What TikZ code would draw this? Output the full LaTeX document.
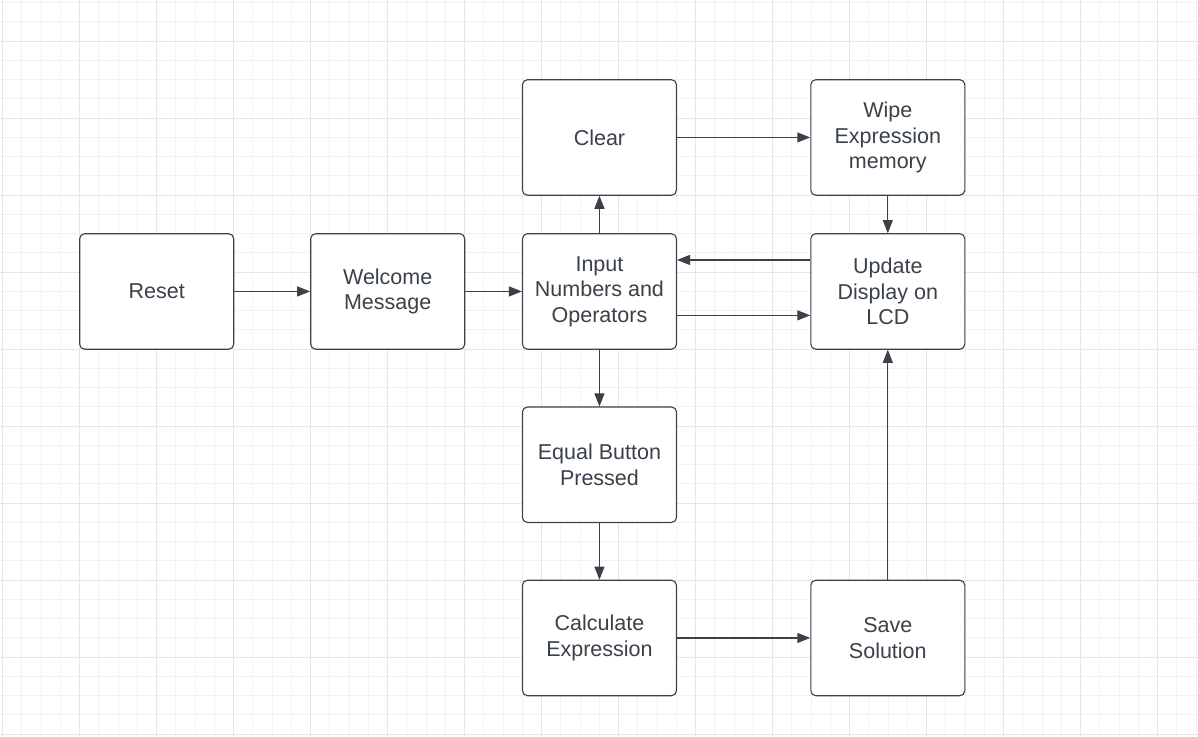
\documentclass[tikz,border=0pt]{standalone}
\usepackage{fontspec}
\setmainfont{Liberation Sans}
\usetikzlibrary{arrows.meta}
\definecolor{ink}{HTML}{3A414A}
\definecolor{gridminor}{HTML}{F2F2F2}
\definecolor{gridmajor}{HTML}{E6E6E6}
\tikzset{
  box/.style={draw=ink, line width=1.1pt, rounded corners=5pt, fill=white,
    minimum width=154pt, minimum height=115.5pt, inner sep=0pt, align=center,
    text=ink, font=\fontsize{21.5}{25.5}\selectfont},
  arr/.style={draw=ink, line width=1.1pt, -{Triangle[length=13pt,width=10pt]}},
  gminor/.style={draw=gridminor, line width=1pt},
  gmajor/.style={draw=gridmajor, line width=1.2pt}
}
\begin{document}
\begin{tikzpicture}[x=1pt,y=-1pt]
\fill[white] (0,0) rectangle (1198,736);
\useasboundingbox (0,0) rectangle (1198,736);
% grid
\foreach \k in {0,...,62}{
  \pgfmathsetmacro{\gx}{2.7+19.25*\k}
  \draw[gminor] (\gx,0) -- (\gx,736);
}
\foreach \k in {0,...,38}{
  \pgfmathsetmacro{\gy}{2.7+19.25*\k}
  \draw[gminor] (0,\gy) -- (1198,\gy);
}
\foreach \k in {0,4,...,60}{
  \pgfmathsetmacro{\gx}{2.7+19.25*\k}
  \draw[gmajor] (\gx,0) -- (\gx,736);
}
\foreach \k in {2,6,...,38}{
  \pgfmathsetmacro{\gy}{2.7+19.25*\k}
  \draw[gmajor] (0,\gy) -- (1198,\gy);
}
% nodes
\node[box] (reset) at (156.7,291.45) {Reset};
\node[box] (welcome) at (387.7,291.45) {Welcome\\Message};
\node[box] (input) at (599.45,291.45) {Input\\Numbers and\\Operators};
\node[box] (clear) at (599.45,137.45) {Clear};
\node[box] (wipe) at (887.8,137.45) {Wipe\\Expression\\memory};
\node[box] (update) at (887.8,291.45) {Update\\Display on\\LCD};
\node[box] (equal) at (599.45,464.7) {Equal Button\\Pressed};
\node[box] (calc) at (599.45,637.95) {Calculate\\Expression};
\node[box] (save) at (887.8,637.95) {Save\\Solution};
% connectors
\draw[arr] (reset.east) -- (welcome.west);
\draw[arr] (welcome.east) -- (input.west);
\draw[arr] (input.north) -- (clear.south);
\draw[arr] (clear.east) -- (wipe.west);
\draw[arr] (wipe.south) -- (update.north);
\draw[arr] ([yshift=31.5pt]update.west) -- ([yshift=31.5pt]input.east);
\draw[arr] ([yshift=-23.9pt]input.east) -- ([yshift=-23.9pt]update.west);
\draw[arr] (input.south) -- (equal.north);
\draw[arr] (equal.south) -- (calc.north);
\draw[arr] (calc.east) -- (save.west);
\draw[arr] (save.north) -- (update.south);
\end{tikzpicture}
\end{document}
